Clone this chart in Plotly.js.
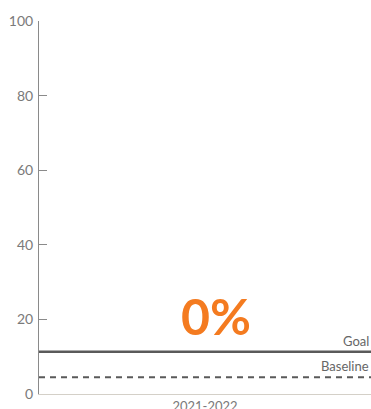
<!DOCTYPE html>
<html>
<head>
<meta charset="utf-8">
<script src="https://cdn.plot.ly/plotly-3.0.1.min.js"></script>
<style>
  html, body { margin: 0; padding: 0; background: #fff; }
  #chart { width: 371px; height: 409px; }
</style>
</head>
<body>
<div id="chart"></div>
<script>
// School-year result against its goal and baseline
const years = ['2021-2022'];
const values = [0];
const goalValue = 11.3;
const baselineValue = 4.5;
const yTicks = [0, 20, 40, 60, 80, 100];

const orange = '#F47B20';
const lineGrey = '#5a5a5a';
const textGrey = '#7a7a7a';
const font = 'Lato, "Open Sans", sans-serif';

const trace = {
  type: 'bar',
  x: years,
  y: values,
  marker: { color: orange },
  hoverinfo: 'skip',
  width: 0.6
};

const layout = {
  width: 371,
  height: 409,
  margin: { l: 39, r: 0, t: 21, b: 15 },
  paper_bgcolor: '#fff',
  plot_bgcolor: '#fff',
  showlegend: false,
  font: { family: font, color: textGrey, size: 13 },
  xaxis: {
    type: 'category',
    showgrid: false,
    zeroline: false,
    showline: true,
    linecolor: '#d4d0c8',
    linewidth: 1,
    ticks: '',
    tickfont: { family: font, size: 13, color: textGrey },
    fixedrange: true
  },
  yaxis: {
    range: [0, 100],
    tickvals: yTicks,
    ticktext: yTicks.map(String),
    showgrid: false,
    zeroline: false,
    showline: true,
    linecolor: '#8a8a8a',
    linewidth: 1,
    ticks: 'inside',
    ticklen: 8,
    tickcolor: '#8a8a8a',
    ticklabelstandoff: 2,
    tickfont: { family: font, size: 14, color: textGrey },
    fixedrange: true
  },
  shapes: [
    {
      type: 'line', xref: 'paper', yref: 'y',
      x0: 0, x1: 1, y0: goalValue, y1: goalValue,
      line: { color: lineGrey, width: 2.5 }
    },
    {
      type: 'line', xref: 'paper', yref: 'y',
      x0: 0, x1: 1, y0: baselineValue, y1: baselineValue,
      line: { color: lineGrey, width: 2, dash: '6px,5px' }
    }
  ],
  annotations: [
    {
      x: years[0], y: values[0], xref: 'x', yref: 'y',
      text: values[0] + '%',
      showarrow: false,
      yanchor: 'bottom',
      yshift: 46,
      xshift: 11,
      font: { family: font, size: 50, color: orange, weight: 'bold' }
    },
    {
      x: 1, y: goalValue, xref: 'paper', yref: 'y',
      text: 'Goal', showarrow: false,
      xanchor: 'right', yanchor: 'bottom', yshift: 1,
      font: { family: font, size: 13, color: '#666' }
    },
    {
      x: 1, y: baselineValue, xref: 'paper', yref: 'y',
      text: 'Baseline', showarrow: false,
      xanchor: 'right', yanchor: 'bottom', yshift: 1,
      font: { family: font, size: 13, color: '#666' }
    }
  ]
};

Plotly.newPlot('chart', [trace], layout, { displayModeBar: false, staticPlot: true });
</script>
</body>
</html>
